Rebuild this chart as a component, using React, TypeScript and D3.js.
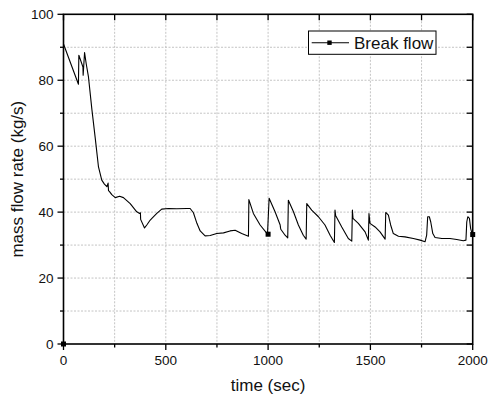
import React from "react";
import * as d3 from "d3";

const times = [0, 73, 75, 95, 96, 103, 111, 122, 139, 155, 171, 187, 200, 212, 218, 220, 225, 236, 253, 274, 293, 326, 358, 372, 376, 377, 396, 407, 424, 432, 456, 480, 513, 554, 603, 619, 635, 652, 668, 692, 717, 749, 782, 814, 839, 871, 904, 906, 928, 961, 997, 1005, 1034, 1059, 1060, 1062, 1083, 1096, 1099, 1124, 1148, 1172, 1186, 1189, 1213, 1246, 1278, 1303, 1324, 1327, 1330, 1360, 1392, 1409, 1412, 1415, 1441, 1474, 1490, 1493, 1498, 1523, 1547, 1572, 1575, 1588, 1599, 1612, 1637, 1669, 1710, 1743, 1767, 1775, 1780, 1788, 1795, 1805, 1816, 1849, 1889, 1922, 1954, 1967, 1971, 1976, 1984, 1990, 1997, 2000];
const flow = [91.0, 78.8, 87.6, 84.0, 81.5, 88.4, 85.0, 81.0, 71.0, 62.5, 53.7, 49.7, 48.5, 47.7, 48.8, 46.5, 46.2, 45.3, 44.4, 44.8, 44.4, 42.6, 40.1, 39.6, 39.8, 37.8, 35.2, 36.1, 37.6, 38.1, 39.6, 40.9, 41.1, 41.0, 41.1, 41.1, 39.8, 36.6, 34.3, 32.8, 32.9, 33.5, 33.7, 34.3, 34.5, 33.5, 32.7, 43.8, 39.6, 36.1, 33.3, 44.2, 40.1, 36.1, 35.5, 34.8, 33.0, 32.2, 43.6, 40.1, 36.1, 33.0, 31.8, 42.6, 40.6, 38.6, 36.1, 33.0, 30.8, 40.6, 39.0, 35.5, 32.0, 31.2, 40.6, 38.1, 36.6, 34.0, 31.5, 39.6, 36.6, 35.5, 34.0, 31.8, 39.9, 39.1, 36.1, 33.5, 32.7, 32.5, 32.0, 31.5, 31.0, 33.0, 38.6, 38.6, 37.0, 33.5, 32.3, 32.0, 32.0, 31.7, 31.3, 31.5, 37.0, 38.6, 38.1, 35.0, 33.5, 33.2];

const markerTimes = [0, 1000, 2000];
const markerFlow = [0, 33.3, 33.2];

const xMajor = [0, 500, 1000, 1500, 2000];
const xMinor = [250, 750, 1250, 1750];
const yMajor = [0, 20, 40, 60, 80, 100];
const yMinor = [10, 30, 50, 70, 90];

const seriesName = "Break flow";
const xTitle = "time (sec)";
const yTitle = "mass flow rate (kg/s)";

export default function App() {
  const W = 489, H = 399;
  const L = 63.5, R = 472.7, T = 14.3, B = 344;
  const x = d3.scaleLinear().domain([0, 2000]).range([L, R]);
  const y = d3.scaleLinear().domain([0, 100]).range([B, T]);
  const pts: [number, number][] = times.map((t, i) => [t, flow[i]]);
  const line = d3.line<[number, number]>().x(d => x(d[0])).y(d => y(d[1]));
  const font = "'Liberation Sans', Arial, sans-serif";
  const grid = "#c4c4c4";
  return (
    <svg width={W} height={H} style={{ position: "absolute", left: 0, top: 0, background: "#fff" }} fontFamily={font}>
      <rect x={0} y={0} width={W} height={H} fill="#fff" />
      {/* grid */}
      {[...xMajor, ...xMinor].filter(v => v > 0 && v < 2000).map(v => (
        <line key={"gx" + v} x1={x(v)} x2={x(v)} y1={T} y2={B} stroke={grid} strokeWidth={1} strokeDasharray="2,1.5" />
      ))}
      {[...yMajor, ...yMinor].filter(v => v > 0 && v < 100).map(v => (
        <line key={"gy" + v} x1={L} x2={R} y1={y(v)} y2={y(v)} stroke={grid} strokeWidth={1} strokeDasharray="2,1.5" />
      ))}
      {/* data */}
      <path d={line(pts) || ""} fill="none" stroke="#000" strokeWidth={1.1} strokeLinejoin="round" />
      {markerTimes.map((t, i) => (
        <rect key={"m" + i} x={x(t) - 2.5} y={y(markerFlow[i]) - 2.5} width={5} height={5} fill="#000" />
      ))}
      {/* frame */}
      <rect x={L} y={T} width={R - L} height={B - T} fill="none" stroke="#000" strokeWidth={1.6} />
      {/* bottom ticks (outward) */}
      {xMajor.map(v => (
        <line key={"bt" + v} x1={x(v)} x2={x(v)} y1={B} y2={B + 6} stroke="#000" strokeWidth={1.3} />
      ))}
      {xMinor.map(v => (
        <line key={"btm" + v} x1={x(v)} x2={x(v)} y1={B} y2={B + 3.5} stroke="#000" strokeWidth={1.3} />
      ))}
      {/* top ticks (inward) */}
      {[...xMajor, ...xMinor].map(v => (
        <line key={"tt" + v} x1={x(v)} x2={x(v)} y1={T} y2={T + 6} stroke="#000" strokeWidth={1.3} />
      ))}
      {/* left ticks (outward) */}
      {yMajor.map(v => (
        <line key={"lt" + v} x1={L - 6} x2={L} y1={y(v)} y2={y(v)} stroke="#000" strokeWidth={1.3} />
      ))}
      {yMinor.map(v => (
        <line key={"ltm" + v} x1={L - 3.5} x2={L} y1={y(v)} y2={y(v)} stroke="#000" strokeWidth={1.3} />
      ))}
      {/* right ticks (inward) */}
      {[...yMajor, ...yMinor].map(v => (
        <line key={"rt" + v} x1={R - 6} x2={R} y1={y(v)} y2={y(v)} stroke="#000" strokeWidth={1.3} />
      ))}
      {/* tick labels */}
      {xMajor.map(v => (
        <text key={"xl" + v} x={x(v)} y={B + 21} fontSize={13.5} textAnchor="middle" fill="#111">{v}</text>
      ))}
      {yMajor.map(v => (
        <text key={"yl" + v} x={L - 10} y={y(v) + 4.8} fontSize={13.5} textAnchor="end" fill="#111">{v}</text>
      ))}
      {/* titles */}
      <text x={(L + R) / 2} y={391} fontSize={17} textAnchor="middle" fill="#111">{xTitle}</text>
      <text transform={`translate(23.3,${(T + B) / 2}) rotate(-90)`} fontSize={17} textAnchor="middle" fill="#111">{yTitle}</text>
      {/* legend */}
      <rect x={308.5} y={31} width={127.5} height={23.3} fill="#fff" stroke="#000" strokeWidth={1} />
      <line x1={311.7} x2={349} y1={42.7} y2={42.7} stroke="#000" strokeWidth={1.1} />
      <rect x={327.3} y={40.5} width={4.4} height={4.4} fill="#000" />
      <text x={354} y={48.6} fontSize={17} fill="#111">{seriesName}</text>
    </svg>
  );
}
